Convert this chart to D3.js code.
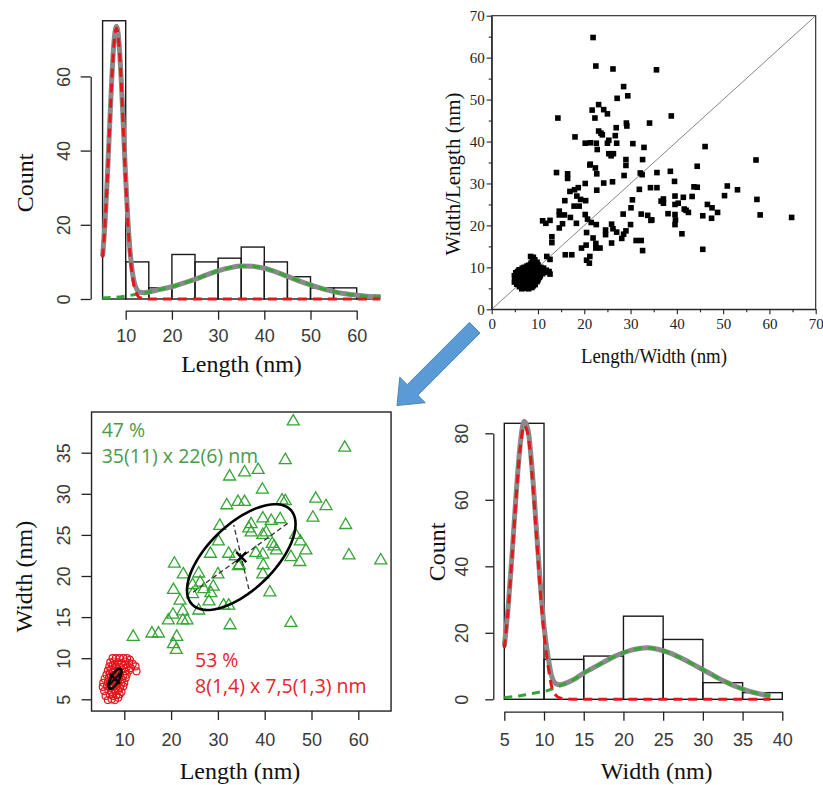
<!DOCTYPE html>
<html><head><meta charset="utf-8">
<script src="https://cdn.jsdelivr.net/npm/d3@7/dist/d3.min.js"></script>
<style>body{margin:0;background:#fff}svg{display:block}</style>
</head><body>
<svg id="c" width="823" height="785"></svg>
<script>
// ---------------- DATA ----------------
const binWidth = 5;
const lengthBinStarts = [5,10,15,20,25,30,35,40,45,50,55,60];
const lengthCounts    = [75,10,3,12,10,11,14,10,6,3,3,1];
const widthBinStarts  = [5,10,15,20,25,30,35];
const widthCounts     = [83,12,13,25,18,5,2];

const lengthCurveX = [5,5.5,6,6.5,7,7.5,8,8.5,9,9.5,10,10.5,11,11.5,12,12.5,13,14,15,17.5,20,22.5,25,27.5,30,32.5,35,37.5,40,42.5,45,47.5,50,52.5,55,57.5,60,62.5,65];
const lengthFitSmall = [11.2,19.8,31.7,45.7,59.3,69.3,73.0,69.3,59.3,45.7,31.7,19.8,11.2,5.7,2.6,1.1,0.4,0.1,0,0,0,0,0,0,0,0,0,0,0,0,0,0,0,0,0,0,0,0,0];
const lengthFitLarge = [0.3,0.32,0.35,0.38,0.42,0.46,0.5,0.55,0.6,0.7,0.8,0.9,1.0,1.1,1.2,1.3,1.4,1.6,1.9,2.6,3.3,4.3,5.3,6.5,7.6,8.4,8.9,8.8,8.3,7.3,6.1,4.9,3.8,2.8,2.0,1.4,1.0,0.7,0.5];
const lengthFitTotal = [11.5,20.1,32.1,46.1,59.7,69.8,73.5,69.9,59.9,46.4,32.5,20.7,12.2,6.8,3.8,2.4,1.8,1.7,1.9,2.6,3.3,4.3,5.3,6.5,7.6,8.4,8.9,8.8,8.3,7.3,6.1,4.9,3.8,2.8,2.0,1.4,1.0,0.7,0.5];

const widthCurveX = [5,5.5,6,6.5,7,7.5,8,8.5,9,9.5,10,10.5,11,11.5,12,13,14,15,16,17,18,19,20,21,22,23,24,25,26,27,28,29,30,31,32,33,34,35,36,37,38,38.5];
const widthFitSmall = [15.4,27.5,43.6,61.1,75.5,82.3,79.3,67.4,50.7,33.6,19.7,10.2,3.5,1.2,0.4,0.1,0,0,0,0,0,0,0,0,0,0,0,0,0,0,0,0,0,0,0,0,0,0,0,0,0,0];
const widthFitLarge = [0.5,0.65,0.8,0.95,1.1,1.3,1.5,1.75,2.0,2.15,2.3,2.7,3.1,3.5,4.0,5.0,6.3,7.9,9.2,10.5,11.8,13.0,14.0,14.8,15.3,15.5,15.2,14.6,13.8,12.7,11.5,10.2,8.9,7.6,6.3,5.1,4.0,3.1,2.3,1.7,1.2,1.0];
const widthFitTotal = [15.9,28.2,44.4,62.1,76.6,83.6,80.8,69.2,52.7,35.8,22.0,12.9,6.6,4.7,4.4,5.1,6.3,7.9,9.2,10.5,11.8,13.0,14.0,14.8,15.3,15.5,15.2,14.6,13.8,12.7,11.5,10.2,8.9,7.6,6.3,5.1,4.0,3.1,2.3,1.7,1.2,1.0];

// particles [length, width]
const largeParticles = [
[46.1,38.8],[57.1,35.6],[44.4,34.1],[38.6,32.9],[35.7,32.6],[32.5,32.1],[39.5,30.5],[50.9,29.4],[53.1,28.5],[31.9,28.6],[34.3,29.0],[35.7,29.0],[43.7,29.2],[44.4,29.1],
[30.4,26.1],[37.1,26.3],[39.6,27.0],[41.4,26.7],[43.3,26.9],[50.3,27.1],[57.3,26.2],[37.1,25.3],[39.6,25.0],[40.3,25.3],[46.6,25.0],[30.1,24.2],[41.6,23.9],[47.6,24.2],[42.5,23.1],[48.8,23.1],[38.1,22.8],[39.6,22.6],[32.3,22.7],[28.4,22.7],[33.7,22.4],[34.6,21.3],[45.6,22.3],[47.5,21.7],[58.0,22.5],[64.8,21.9],[39.7,21.3],[30.0,20.2],[25.9,20.3],[22.6,20.2],[20.7,21.5],[39.6,20.2],[26.2,19.2],[29.0,18.7],[20.5,18.3],[28.5,17.9],[41.1,18.0],[24.6,17.8],[21.9,17.0],[28.1,16.9],[25.9,15.8],[31.2,16.4],[32.3,16.4],[20.4,15.3],[22.5,15.7],[19.4,14.6],[22.5,14.6],[23.4,14.6],[32.6,14.0],[45.6,14.3],[15.9,13.0],[17.3,13.0],[11.9,12.6],[21.2,12.6],[20.5,11.7],[21.1,11.0],[27.0,18.4],[36.6,25.8],[34.4,21.2],[24.6,18.9],[42.0,23.6]
];
const smallParticles = [
[7.5,10],[8.2,10],[9,10],[9.8,10],[10.6,10],[11.2,9.8],
[7,9.5],[7.8,9.6],[8.6,9.5],[9.4,9.4],[10.2,9.6],[11,9.4],[11.8,9.3],[12.4,9.0],
[6.8,9.0],[7.5,9.1],[8.2,9.0],[9.0,8.9],[9.8,9.1],[10.5,8.9],[11.4,8.8],
[6.5,8.5],[7.2,8.6],[8.0,8.4],[8.8,8.5],[9.5,8.6],[10.2,8.4],[11,8.5],[12.6,8.4],
[6.2,8.0],[6.9,8.1],[7.6,7.9],[8.3,8.0],[9.1,8.1],[9.8,7.9],[10.5,8.0],
[5.8,7.5],[6.7,7.6],[7.4,7.4],[8.1,7.5],[8.8,7.6],[9.5,7.4],[10.3,7.6],
[5.5,7.0],[6.5,7.1],[7.2,6.9],[7.9,7.0],[8.6,7.1],[9.3,6.9],[10.0,7.0],
[5.4,6.5],[6.3,6.6],[7.0,6.4],[7.7,6.5],[8.4,6.6],[9.1,6.4],[9.8,6.6],
[5.7,6.0],[6.6,6.1],[7.3,5.9],[8.0,6.0],[8.7,6.1],[9.4,5.9],
[6.0,5.4],[6.9,5.6],[7.6,5.4],[8.3,5.5],[9.0,5.6],
[6.5,4.9],[7.3,5.0],[8.0,4.9],[8.7,5.2],
[7.8,7.2],[8.2,7.8],[7.5,8.2],[8.5,7.3],[7.9,8.6],[8.9,8.2],[7.1,7.7],[8.3,6.8]
];
// fitted ellipses: centre, major-axis angle (deg, data space), semi-axes (data units)
const largeEllipse = {cx:35, cy:22.3, angle:22.5, a:12.4, b:4.7};
const smallEllipse = {cx:8, cy:7.5, angle:40, a:1.7, b:0.7};

const largeLabel = ["47 %", "35(11) x 22(6) nm"];
const smallLabel = ["53 %", "8(1,4) x 7,5(1,3) nm"];

const tlXTicks = [10,20,30,40,50,60], tlYTicks = [0,20,40,60];
const blXTicks = [10,20,30,40,50,60], blYTicks = [5,10,15,20,25,30,35];
const brXTicks = [5,10,15,20,25,30,35,40], brYTicks = [0,20,40,60,80];
const trMajor = [0,10,20,30,40,50,60,70], trMinor = [5,15,25,35,45,55,65];

// ---------------- DRAW ----------------
const svg = d3.select("#c");
const SANS = "'Liberation Sans', Arial, sans-serif";
const SERIF = "'Liberation Serif', 'Times New Roman', serif";
const RED = "#e3171c", GREEN = "#35a535", GREY = "#8a8a8a";

function styleR(g){
  g.selectAll("path.domain,line").attr("stroke","#222").attr("stroke-width",1.3);
  g.selectAll("text").attr("font-family",SANS).attr("font-size",18).attr("fill","#3a3a3a");
}
function rotY(g, off){
  g.selectAll(".tick text").attr("transform","rotate(-90)").attr("x",0).attr("y",-off).attr("dy","0.36em").attr("text-anchor","middle");
}
function hist(xs, ys, starts, counts){
  const data = starts.map((s,i)=>({s, c:counts[i]}));
  svg.append("g").selectAll("rect").data(data).join("rect")
    .attr("x", d=>xs(d.s)).attr("width", d=>xs(d.s+binWidth)-xs(d.s))
    .attr("y", d=>ys(d.c)).attr("height", d=>ys(0)-ys(d.c))
    .attr("fill","none").attr("stroke","#1a1a1a").attr("stroke-width",1.4);
}
function curves(xs, ys, X, small, large, total){
  const line = (arr)=>d3.line().x((d,i)=>xs(X[i])).y(d=>ys(d)).curve(d3.curveMonotoneX)(arr);
  svg.append("path").attr("d",line(total)).attr("fill","none").attr("stroke",GREY).attr("stroke-width",5);
  svg.append("path").attr("d",line(large)).attr("fill","none").attr("stroke",GREEN).attr("stroke-width",3).attr("stroke-dasharray","8,6");
  svg.append("path").attr("d",line(small)).attr("fill","none").attr("stroke",RED).attr("stroke-width",3).attr("stroke-dasharray","9,6");
}
function title(txt, x, y, size, rot){
  const t = svg.append("text").text(txt).attr("font-family",SERIF).attr("font-size",size).attr("fill","#111").attr("text-anchor","middle");
  t.attr("transform", `translate(${x},${y})` + (rot?" rotate(-90)":""));
  return t;
}

// ---- Top-left: length histogram ----
const xTL = d3.scaleLinear().domain([10,60]).range([125.7,356.7]);
const yTL = d3.scaleLinear().domain([0,60]).range([299,76.4]);
hist(xTL, yTL, lengthBinStarts, lengthCounts);
curves(xTL, yTL, lengthCurveX, lengthFitSmall, lengthFitLarge, lengthFitTotal);
{
  const gx = svg.append("g").attr("transform","translate(0,310.7)")
    .call(d3.axisBottom(xTL).tickValues(tlXTicks).tickSize(9).tickSizeOuter(0));
  styleR(gx); gx.selectAll(".tick text").attr("y",19);
  const gy = svg.append("g").attr("transform","translate(90.7,0)")
    .call(d3.axisLeft(yTL).tickValues(tlYTicks).tickSize(10).tickSizeOuter(0));
  styleR(gy); rotY(gy, 27.4);
  title("Count", 33, 183, 24, true);
  title("Length (nm)", 241.5, 372, 24, false);
}

// ---- Top-right: scatter length/width vs width/length ----
const xTR = d3.scaleLinear().domain([0,70]).range([491.7,815.7]);
const yTR = d3.scaleLinear().domain([0,70]).range([309.3,15.7]);
{
  svg.append("rect").attr("x",xTR(0)).attr("y",yTR(70)).attr("width",xTR(70)-xTR(0)).attr("height",yTR(0)-yTR(70))
    .attr("fill","none").attr("stroke","#222").attr("stroke-width",1.1);
  svg.append("line").attr("x1",xTR(0)).attr("y1",yTR(0)).attr("x2",xTR(70)).attr("y2",yTR(70))
    .attr("stroke","#777").attr("stroke-width",0.9);
  const all = largeParticles.concat(smallParticles);
  const pts = all.map(p=>[p[0],p[1]]).concat(all.map(p=>[p[1],p[0]]));
  const s = 5.6;
  svg.append("g").selectAll("rect").data(pts).join("rect")
    .attr("x",d=>xTR(d[0])-s/2).attr("y",d=>yTR(d[1])-s/2).attr("width",s).attr("height",s).attr("fill","#000");
  const st = g=>{ g.selectAll("path.domain,line").attr("stroke","#222").attr("stroke-width",1.1);
    g.selectAll("text").attr("font-family",SERIF).attr("font-size",15).attr("fill","#222"); };
  const gx = svg.append("g").attr("transform",`translate(0,${yTR(0)})`)
    .call(d3.axisBottom(xTR).tickValues(trMajor).tickSize(5).tickSizeOuter(0).tickPadding(4)); st(gx);
  svg.append("g").attr("transform",`translate(0,${yTR(0)})`)
    .call(d3.axisBottom(xTR).tickValues(trMinor).tickSize(3).tickFormat("")).call(st).select(".domain").remove();
  const gy = svg.append("g").attr("transform",`translate(${xTR(0)},0)`)
    .call(d3.axisLeft(yTR).tickValues(trMajor).tickSize(5).tickSizeOuter(0).tickPadding(2)); st(gy);
  svg.append("g").attr("transform",`translate(${xTR(0)},0)`)
    .call(d3.axisLeft(yTR).tickValues(trMinor).tickSize(3).tickFormat("")).call(st).select(".domain").remove();
  title("Width/Length (nm)", 460, 174, 21, true);
  title("Length/Width (nm)", 654, 363, 21, false).attr("textLength",146).attr("lengthAdjust","spacingAndGlyphs");
}

// ---- Arrow ----
{
  const T=[474.7,327.7], P=[397,405.5];
  const L=Math.hypot(P[0]-T[0],P[1]-T[1]); const u=[(P[0]-T[0])/L,(P[1]-T[1])/L]; const n=[-u[1],u[0]];
  const hw=7.5, hh=18, hl=22; const B=[P[0]-u[0]*hl,P[1]-u[1]*hl];
  const q=(p,k)=>[p[0]+n[0]*k,p[1]+n[1]*k];
  const poly=[q(T,hw),q(B,hw),q(B,hh),P,q(B,-hh),q(B,-hw),q(T,-hw)];
  svg.append("polygon").attr("points",poly.map(p=>p.join(",")).join(" "))
    .attr("fill","#5b9bd5").attr("stroke","#4a85bb").attr("stroke-width",1);
}

// ---- Bottom-left: width vs length scatter ----
const xBL = d3.scaleLinear().domain([10,60]).range([124.3,358.3]);
const yBL = d3.scaleLinear().domain([5,35]).range([699.3,452.7]);
{
  const xLim=[3.0,67.0], yLim=[3.57,39.95];
  svg.append("rect").attr("x",xBL(xLim[0])).attr("y",yBL(yLim[1])).attr("width",xBL(xLim[1])-xBL(xLim[0])).attr("height",yBL(yLim[0])-yBL(yLim[1]))
    .attr("fill","none").attr("stroke","#222").attr("stroke-width",1.4);
  const tri = d3.symbol().type(d3.symbolTriangle).size(62);
  svg.append("g").selectAll("path").data(largeParticles).join("path")
    .attr("d",tri).attr("transform",d=>`translate(${xBL(d[0])},${yBL(d[1])})`)
    .attr("fill","none").attr("stroke",GREEN).attr("stroke-width",1.3);
  svg.append("g").selectAll("circle").data(smallParticles).join("circle")
    .attr("cx",d=>xBL(d[0])).attr("cy",d=>yBL(d[1])).attr("r",3.5)
    .attr("fill","none").attr("stroke",RED).attr("stroke-width",1.2);
  function ell(e, w){
    const th=e.angle*Math.PI/180, u=[Math.cos(th),Math.sin(th)], v=[-Math.sin(th),Math.cos(th)];
    const pts=d3.range(0,361,4).map(t=>{const r=t*Math.PI/180;
      return [xBL(e.cx+e.a*Math.cos(r)*u[0]+e.b*Math.sin(r)*v[0]), yBL(e.cy+e.a*Math.cos(r)*u[1]+e.b*Math.sin(r)*v[1])];});
    svg.append("path").attr("d",d3.line()(pts)+"Z").attr("fill","none").attr("stroke","#000").attr("stroke-width",w);
    const k=0.9;
    [[u,e.a],[v,e.b]].forEach(([dir,len])=>{
      svg.append("line").attr("x1",xBL(e.cx-dir[0]*len*k)).attr("y1",yBL(e.cy-dir[1]*len*k))
        .attr("x2",xBL(e.cx+dir[0]*len*k)).attr("y2",yBL(e.cy+dir[1]*len*k))
        .attr("stroke","#333").attr("stroke-width",1.3).attr("stroke-dasharray","5,3");
    });
    const cx=xBL(e.cx), cy=yBL(e.cy), m=5;
    svg.append("path").attr("d",`M${cx-m},${cy-m}L${cx+m},${cy+m}M${cx-m},${cy+m}L${cx+m},${cy-m}`).attr("stroke","#000").attr("stroke-width",2.4);
  }
  ell(largeEllipse, 2.6);
  ell(smallEllipse, 2.6);
  const gx = svg.append("g").attr("transform",`translate(0,${yBL(yLim[0])})`)
    .call(d3.axisBottom(xBL).tickValues(blXTicks).tickSize(9).tickSizeOuter(0));
  styleR(gx); gx.selectAll(".tick text").attr("y",22); gx.select(".domain").remove();
  const gy = svg.append("g").attr("transform",`translate(${xBL(xLim[0])},0)`)
    .call(d3.axisLeft(yBL).tickValues(blYTicks).tickSize(10).tickSizeOuter(0));
  styleR(gy); rotY(gy, 28.4); gy.select(".domain").remove();
  title("Width (nm)", 32, 576.7, 24, true);
  title("Length (nm)", 240, 779, 24, false);
  const ft = "'Open Sans', 'Noto Sans', sans-serif";
  svg.append("g").selectAll("text").data(largeLabel).join("text").text(d=>d)
    .attr("x",101.7).attr("y",(d,i)=>437+i*26).attr("font-family",ft).attr("font-size",19.5).attr("fill","#4b9a4b");
  svg.append("g").selectAll("text").data(smallLabel).join("text").text(d=>d)
    .attr("x",195).attr("y",(d,i)=>666.5+i*26).attr("font-family",ft).attr("font-size",19.5).attr("fill","#e8232a");
}

// ---- Bottom-right: width histogram ----
const xBR = d3.scaleLinear().domain([5,40]).range([504.3,782.3]);
const yBR = d3.scaleLinear().domain([0,80]).range([699.3,433.3]);
hist(xBR, yBR, widthBinStarts, widthCounts);
curves(xBR, yBR, widthCurveX, widthFitSmall, widthFitLarge, widthFitTotal);
{
  const gx = svg.append("g").attr("transform","translate(0,711.7)")
    .call(d3.axisBottom(xBR).tickValues(brXTicks).tickSize(9).tickSizeOuter(0));
  styleR(gx); gx.selectAll(".tick text").attr("y",22);
  const gy = svg.append("g").attr("transform","translate(493.3,0)")
    .call(d3.axisLeft(yBR).tickValues(brYTicks).tickSize(8).tickSizeOuter(0));
  styleR(gy); rotY(gy, 31.6);
  title("Count", 445, 552, 24, true);
  title("Width (nm)", 656.7, 779, 24, false);
}
</script></body></html>
